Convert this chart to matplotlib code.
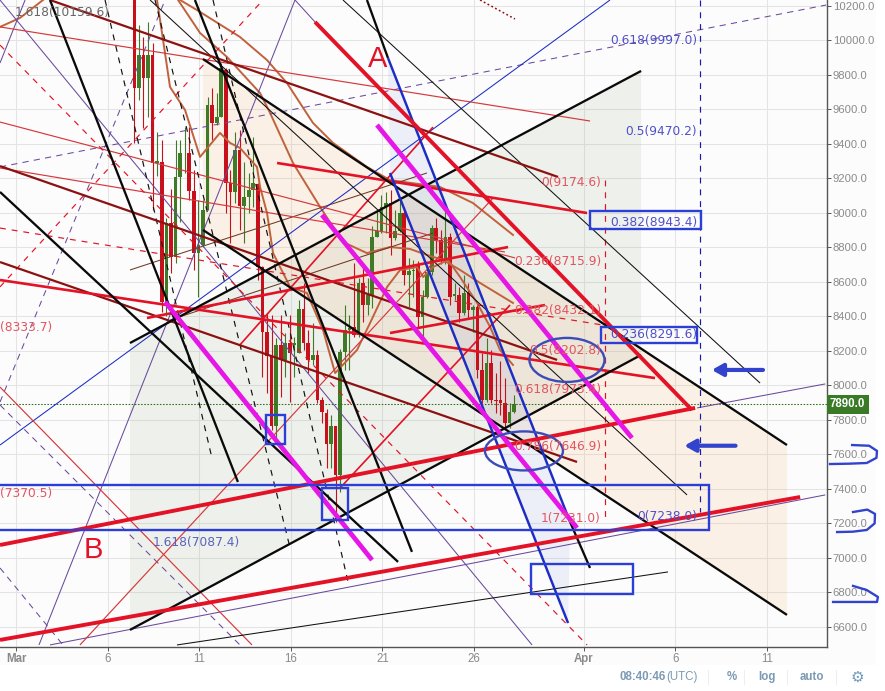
import matplotlib
matplotlib.use("Agg")
import matplotlib.pyplot as plt
from matplotlib.patches import Rectangle, Ellipse, Polygon

W, H = 885, 691
RED, GREEN = "#c8101c", "#3f7a27"
BRIGHT = "#e31226"
DARKRED = "#8c1212"
THINRED = "#d6383c"
BLUE = "#1c2cc4"
BOX = "#2b3fd6"
PURPLE = "#6a4a9c"
MAGENTA = "#e617e6"
MA = "#c0623c"

# 6-hour candles
first_day = 6.45
opens = [10300,9720,9913,9778,9913,9286,9292,8484,8938,8745,
         9209,9344,9344,9127,8764,8813,9015,9624,9518,9556,
         9826,9170,9122,9363,9040,9093,9131,9164,8687,8311,
         8170,7767,8234,8147,8244,8236,8186,8441,8244,8147,
         8176,7915,7842,7659,7765,7481,8195,8321,8340,8292,
         8595,8466,8524,8862,8891,9032,9055,8852,8891,8997,
         8640,8665,8698,8398,8514,8659,8914,8842,8726,8862,
         8518,8524,8421,8537,8437,8456,8089,7915,8128,7915,
         7915,7896,7780,7844]
closes = [9720,9913,9778,9913,9286,9300,8484,8938,8745,9209,
          9344,9344,9127,8764,8813,9015,9624,9518,9556,9836,
          9170,9122,9363,9040,9093,9131,9170,8687,8311,8170,
          7767,8234,8147,8244,8186,8246,8441,8244,8147,8176,
          7915,7848,7659,7765,7481,8195,8321,8330,8292,8595,
          8466,8524,8862,8891,9032,9055,8852,8891,8997,8640,
          8665,8670,8398,8514,8659,8914,8842,8726,8862,8514,
          8530,8421,8537,8437,8456,8089,7915,8128,7915,7910,
          7896,7780,7844,7890]
highs = [10400,10087,10020,10106,9981,9470,9421,8967,9140,9421,
         9421,9498,9498,9247,9073,9073,9672,9720,9691,9865,
         9836,9247,9469,9479,9295,9228,9440,9170,8690,8418,
         8408,8273,8408,8302,8408,8282,8495,8591,8320,8360,
         8205,7930,7860,7830,7765,8210,8466,8408,8711,8620,
         8697,8620,8920,9016,9103,9122,9132,9016,9093,9035,
         8736,8726,8720,8553,8678,8930,8968,8900,9045,8880,
         8590,8570,8640,8590,8466,8466,8186,8273,8205,8070,
         8138,8040,7895,7945]
lows = [9402,9650,9488,9556,9015,9210,8427,8400,8650,8706,
        8948,9228,9073,8668,8513,8803,9015,9421,9508,9556,
        8996,8822,9054,8900,8822,8996,9035,8610,8050,7954,
        7740,7683,7935,8050,7906,8050,8186,8205,8070,8118,
        7900,7780,7520,7520,7210,7384,8089,8089,8282,8282,
        8369,8408,8446,8860,8880,8880,8755,8842,8890,8582,
        8456,8514,8340,8273,8505,8640,8765,8705,8705,8466,
        8495,8369,8408,8389,8311,8041,7896,7905,7896,7838,
        7830,7752,7752,7838]
candle_days = [first_day + 0.25 * i for i in range(len(opens))]

# moving averages: (day, price)
ma_fast_days = [7.69,8.02,8.40,9.22,10.04,11.13,11.68,12.22,13.15,13.32,13.70,14.03,14.96,15.88,16.76,17.42,18.62,19.33,20.26,20.97,21.90,22.23,22.77,23.59,24.25,25.18,25.89,26.43,27.14]
ma_fast_vals = [10232,10000,9728,9595,9323,9462,9404,9375,9265,9149,8998,8766,8570,8535,8320,8071,8205,8361,8570,8668,8685,8627,8685,8726,8627,8477,8338,8205,8118]
ma_mid_days = [8.84,10.04,11.51,13.32,13.87,15.12,16.60,17.85,19.16,20.42,21.51,22.44,23.32,24.25,25.34,27.14]
ma_mid_vals = [10232,10041,9902,9693,9577,9288,9033,8830,8766,8801,8790,8755,8726,8668,8593,8477]
ma_slow_days = [8.95,9.87,12.22,13.70,14.79,16.21,17.31,19.16,20.42,23.15,24.95,27.14]
ma_slow_vals = [10232,10174,10018,9884,9751,9520,9404,9265,9189,9149,9056,8871]
ma_old_days = [-0.89,0.2,1.46]
ma_old_vals = [10076,10128,10232]

# shaded channels
green_channel = [(6.21,8245),(34.14,9821),(34.14,8176),(6.21,6583)]
orange_channel = [(10.2,9890),(42.11,7654),(42.11,6670),(10.2,8900)]
blue_channel = [(20.31,9896),(30.26,7208),(30.15,6623),(20.42,9230)]

# trend lines: x0, p0, x1, p1
black_thick = [(6.21,8245,34.14,9821),(6.21,6583,34.14,8176),(10.2,9890,42.11,7654),(10.2,8900,42.11,6670),
               (1.84,10232,12.11,7440),(9.76,10232,21.62,7035),(-0.89,9120,20.86,6977),
               (19.16,10232,20.31,9896),(30.26,7208,31.35,6942)]
black_thin = [(7.31,10232,36.65,7365),(17.85,10232,40.64,8013),(8.78,6496,35.61,6919)]
black_dashed = [(4.85,10232,10.69,7579),(7.58,10232,14.96,7058),(10.75,10232,18.13,6861)]
brown_thin = [(6.21,8668,22.44,9230),(8.4,8378,22.77,8882)]
blue_thick = [(20.31,9896,30.26,7208),(20.42,9230,30.15,6623)]
blue_thin = [(-0.89,7654,32.44,10232)]
purple_solid = [(15.23,10232,1.24,6496),(-0.89,10232,28.18,6496),(-0.89,9867,0.48,10232),(1.84,6496,44.2,7365),(37.2,7869,44.2,8008),(15.23,10232,16.32,10105)]
purple_dashed = [(-0.89,9265,44.25,10203),(-0.89,7903,8.13,10232),(-0.89,7886,12.22,6496),(-0.89,6942,2.55,6496)]
red_thin = [(-0.89,7990,12.88,6496),(3.48,6496,26.05,9085),(-0.89,10076,31.35,9531),(-0.89,9525,27.25,8738),(-0.89,9259,26.7,8772)]
red_mid = [(17.69,7405,26.98,8465),(12.22,8234,22.77,9496)]
red_dashed = [(-0.89,8570,13.48,10232),(-0.89,9971,31.19,6496),(-0.89,8911,32.06,8349),(32.14,9189,32.14,7208)]
red_dotted = [(25.34,10232,27.25,10122)]
dark_red = [(1.84,10232,29.6,9207),(-0.89,9270,29.55,8147),(-0.89,8714,30.64,7556)]
red_bold = [(-0.89,8610,34.9,8042),(14.25,9288,31.19,8998),(7.14,8390,26.87,8801),(20.42,8303,28.89,8465)]
red_heavy = [(16.32,10105,36.92,7857),(-0.89,7075,37.09,7869),(-0.89,6525,42.83,7353)]
magenta = [(19.71,9508,33.64,7695),(16.7,8987,30.64,7174),(8.13,8483,19.44,6988)]
blue_dashed = [(37.36,10232,37.36,7266)]

# boxes: d0, p0, d1, p1
boxes = [(-1.5,7425,37.85,7162),(31.35,9010,37.4,8906),(31.93,8338,37.2,8245),(13.65,7828,14.68,7660),(16.7,7405,18.13,7220),(28.13,6965,33.7,6791)]
ellipses = [(30.09,8147,4.1,255),(27.74,7620,4.26,226)]
arrows = [(40.8,8089,38.0),(39.3,7650,36.5)]
hand_curves = [([44.46,45.5,46.47,47.0,47.03,46.6,45.67],[7544,7546,7550,7580,7620,7650,7654]),
               ([44.85,45.7,46.47,46.9,46.92,46.5,45.72],[7150,7152,7162,7200,7255,7280,7266]),
               ([44.63,45.8,47.03,47.08,46.47,45.72],[6745,6745,6745,6774,6814,6838])]

# labels
red_labels = [("0(9174.6)",9174.6),("0.236(8715.9)",8715.9),("0.382(8432.1)",8432.1),("0.5(8202.8)",8202.8),
              ("0.618(7973.4)",7973.4),("0.786(7646.9)",7646.9),("1(7231.0)",7231.0)]
blue_labels = [("0.618(9997.0)",9997.0),("0.5(9470.2)",9470.2),("0.382(8943.4)",8943.4),("0.236(8291.6)",8291.6),("0(7238.0)",7238.0)]
price_ticks = [6600,6800,7000,7200,7400,7600,7800,8000,8200,8400,8600,8800,9000,9200,9400,9600,9800,10000,10200]
day_ticks = [0,5,10,15,20,25,31,36,41]
day_labels = ["Mar","6","11","16","21","26","Apr","6","11"]
last_price = 7890.0

plt.rcParams["font.family"] = ["Liberation Sans", "DejaVu Sans"]
fig = plt.figure(figsize=(W/100, H/100), dpi=100, facecolor="white")
fig.add_artist(Rectangle((0, (H-665)/H), 876/W, 665/H, transform=fig.transFigure, fc="#fcfcfc", ec="none", zorder=-10))
ax = fig.add_axes([0, (H-646.5)/H, 826.5/W, 646.5/H], facecolor="none")
ax.set_xlim(-0.89, 44.27)
ax.set_ylim(6487, 10232)

ax.set_yticks(price_ticks)
ax.set_yticklabels([f"{t:.1f}" for t in price_ticks], color="#8a8a8a", fontsize=8.1)
ax.yaxis.tick_right()
ax.set_xticks(day_ticks)
ax.set_xticklabels(day_labels, color="#8a8a8a", fontsize=8.3)
for lab in ax.get_xticklabels():
    if lab.get_text() in ("Mar", "Apr"):
        lab.set_fontweight("bold")
ax.tick_params(axis="both", length=3, width=0.7, color="#555555", pad=1.5)
ax.grid(True, color="#e4e4e4", lw=0.75, zorder=0)
ax.set_axisbelow(True)
for s in ("left", "top"):
    ax.spines[s].set_visible(False)
for s in ("right", "bottom"):
    ax.spines[s].set_color("#555555")
    ax.spines[s].set_linewidth(1.0)

for pts, col, al in [(green_channel, "#8aa27a", 0.13), (orange_channel, "#f0a860", 0.14), (blue_channel, "#8090e0", 0.12)]:
    ax.add_patch(Polygon(pts, closed=True, fc=col, ec="none", alpha=al, zorder=1))

for d, o, c, h, l in zip(candle_days, opens, closes, highs, lows):
    col = GREEN if c >= o else RED
    ax.vlines(d, l, h, color=col, lw=0.8, zorder=2)
    ax.bar(d, abs(c-o) or 4, bottom=min(o, c), width=0.2, color=col, lw=0, zorder=2.1)

ax.axhline(last_price, color="#2f6d1c", lw=0.75, ls=(0, (1.5, 1.5)), zorder=3)

def draw(lines, **kw):
    for x0, p0, x1, p1 in lines:
        ax.plot([x0, x1], [p0, p1], solid_capstyle="butt", **kw)

for dx, vx in [(ma_fast_days, ma_fast_vals), (ma_mid_days, ma_mid_vals), (ma_slow_days, ma_slow_vals), (ma_old_days, ma_old_vals)]:
    ax.plot(dx, vx, color=MA, lw=1.4, zorder=3)

draw(brown_thin, color="#6e3a22", lw=0.75, zorder=3)
draw(purple_solid, color=PURPLE, lw=0.75, zorder=3)
draw(purple_dashed, color=PURPLE, lw=0.75, ls=(0, (6, 5)), zorder=3)
draw(blue_thin, color=BLUE, lw=0.75, zorder=3)
draw(red_thin, color=THINRED, lw=0.85, zorder=3)
draw(red_mid, color=BRIGHT, lw=1.2, zorder=3.2)
draw(red_dashed, color=BRIGHT, lw=0.85, ls=(0, (5, 5)), zorder=3)
draw(red_dotted, color=DARKRED, lw=1.1, ls=(0, (1.2, 1.6)), zorder=3)
draw(black_dashed, color="#111111", lw=0.85, ls=(0, (5, 5)), zorder=3)
draw(black_thin, color="#111111", lw=0.75, zorder=3.3)
draw(dark_red, color=DARKRED, lw=1.6, zorder=3.4)
draw(red_bold, color=BRIGHT, lw=1.9, zorder=3.5)
draw(black_thick, color="#0a0a0a", lw=1.65, zorder=3.6)
draw(blue_thick, color=BLUE, lw=1.75, zorder=3.7)
draw(red_heavy, color=BRIGHT, lw=2.8, zorder=3.8)
draw(magenta, color=MAGENTA, lw=3.4, zorder=3.9)
draw(blue_dashed, color="#1a1aa8", lw=0.85, ls=(0, (5, 5)), zorder=3)

for d0, p0, d1, p1 in boxes:
    ax.add_patch(Rectangle((d0, p1), d1-d0, p0-p1, fc="none", ec=BOX, lw=1.7, zorder=5))
for cx, cy, w, h in ellipses:
    ax.add_patch(Ellipse((cx, cy), w, h, fc="none", ec="#3b4bb8", lw=1.7, zorder=5))
for x0, p, x1 in arrows:
    ax.annotate("", xy=(x1, p), xytext=(x0, p), zorder=6,
                arrowprops=dict(arrowstyle="-|>,head_length=0.5,head_width=0.28", lw=3, color="#3344cc", shrinkA=0, shrinkB=0, mutation_scale=13))
for cx, cy in hand_curves:
    ax.plot(cx, cy, color="#3344cc", lw=1.7, clip_on=False, zorder=6)

lab = dict(family="DejaVu Sans", fontsize=8.8, va="center", zorder=7, clip_on=True)
for t, p in red_labels:
    ax.text(31.95, p, t, ha="right", color="#e25560", **lab)
for t, p in blue_labels:
    ax.text(37.2, p, t, ha="right", color="#5050c8", **lab)
ax.text(12.22, 7087.4, "1.618(7087.4)", ha="right", color="#5a62c0", **lab)
ax.text(5.12, 10159.6, "1.618(10159.6)", ha="right", color="#666666", **lab)
ax.text(1.95, 8333.7, "(8333.7)", ha="right", color="#e25560", **lab)
ax.text(1.95, 7370.5, "(7370.5)", ha="right", color="#e25560", **lab)

ax.text(19.75, 9890, "A", color=BRIGHT, fontsize=21, ha="center", va="center", zorder=7)
ax.text(4.2, 7045, "B", color=BRIGHT, fontsize=21, ha="center", va="center", zorder=7)

ytrans = ax.get_yaxis_transform()
ax.text(1.0042, last_price, f"{last_price:.1f}", transform=ytrans, color="white", fontsize=8.3, fontweight="bold",
        ha="left", va="center", clip_on=False, zorder=8,
        bbox=dict(boxstyle="square,pad=0.28", fc="#3a7a26", ec="none"))

def ftext(x, y, s, **kw):
    fig.text(x/W, 1-y/H, s, va="center", **kw)
bar = dict(color="#7b9ab3", fontsize=8.3, fontweight="bold")
ftext(619, 677, "08:40:46", **bar)
ftext(666, 677, "(UTC)", color="#7b9ab3", fontsize=8.3)
ftext(727, 677, "%", **bar)
ftext(758, 677, "log", **bar)
ftext(800, 677, "auto", **bar)
fig.text(857/W, 1-677/H, "\u2699", family="DejaVu Sans", color="#6f9dbb", fontsize=11, ha="center", va="center")
for x in (708, 744, 787, 836):
    fig.add_artist(plt.Line2D([x/W, x/W], [1-670/H, 1-684/H], color="#eeeeee", lw=0.75))

fig.savefig("out.png", dpi=100)
